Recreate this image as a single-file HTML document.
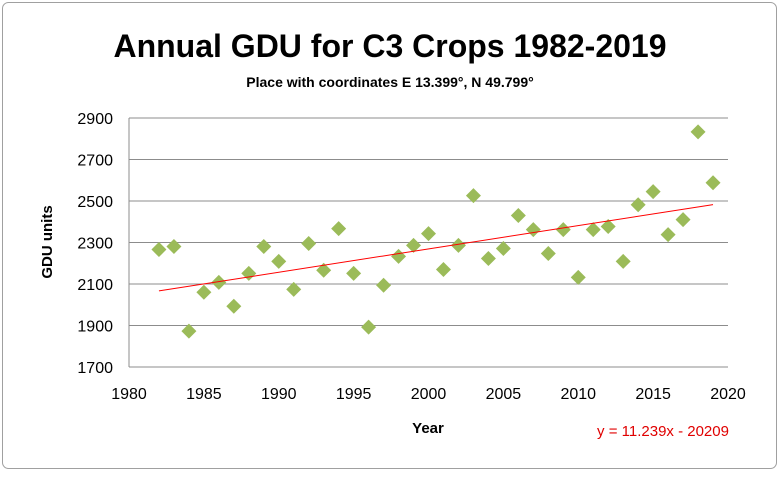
<!DOCTYPE html>
<html><head><meta charset="utf-8"><style>
body{margin:0;background:#fff;}
svg text{font-family:"Liberation Sans",Arial,sans-serif;}
</style></head><body>
<svg id="chart" width="781" height="473">
<rect x="2.5" y="2.5" width="774" height="466" rx="6" fill="#fff" stroke="#a0a0a0"/>
<text x="390" y="57" text-anchor="middle" font-size="32" font-weight="bold">Annual GDU for C3 Crops 1982-2019</text>
<text x="390" y="87" text-anchor="middle" font-size="14" font-weight="bold">Place with coordinates E 13.399°, N 49.799°</text>
<g id="grid"></g><g id="axes"></g><g id="marks"></g>
<text x="428" y="433" text-anchor="middle" font-size="15" font-weight="bold">Year</text>
<text transform="translate(52,242) rotate(-90)" text-anchor="middle" font-size="15" font-weight="bold">GDU units</text>
<text x="663" y="436" text-anchor="middle" font-size="15" fill="#e00000">y = 11.239x - 20209</text>
</svg>
<script>
const years=[1982,1983,1984,1985,1986,1987,1988,1989,1990,1991,1992,1993,1994,1995,1996,1997,1998,1999,2000,2001,2002,2003,2004,2005,2006,2007,2008,2009,2010,2011,2012,2013,2014,2015,2016,2017,2018,2019];
const gdu=[2266,2281,1873,2060,2108,1993,2151,2281,2209,2074,2295,2166,2367,2151,1892,2094,2233,2286,2343,2170,2286,2526,2223,2271,2430,2362,2247,2362,2132,2362,2377,2209,2482,2545,2338,2410,2833,2588];
const yTicks=[1700,1900,2100,2300,2500,2700,2900];
const xTicks=[1980,1985,1990,1995,2000,2005,2010,2015,2020];
const slope=11.239, intercept=-20209;
const X0=129,X1=728,Y0=367,Y1=118;
const sx=v=>X0+(v-1980)/40*(X1-X0);
const sy=v=>Y0-(v-1700)/1200*(Y0-Y1);
const NS="http://www.w3.org/2000/svg";
function mk(t,a,p){const e=document.createElementNS(NS,t);for(const k in a)e.setAttribute(k,a[k]);document.getElementById(p).appendChild(e);return e;}
yTicks.forEach(v=>{
 const l=mk('line',{x1:X0,x2:X1,y1:sy(v),y2:sy(v),stroke:'#8c8c8c'},'grid');
 
 
 const t=mk('text',{x:X0-16,y:sy(v)+6,'text-anchor':'end','font-size':16},'axes');t.textContent=v;
 
 
});
const yl=mk('line',{x1:X0,x2:X0,y1:Y1,y2:Y0,stroke:'#8c8c8c'},'axes');


xTicks.forEach(v=>{
 const t=mk('text',{x:sx(v),y:Y0+32,'text-anchor':'middle','font-size':16},'axes');t.textContent=v;
 
 
});
years.forEach((y,i)=>{
 const cx=sx(y),cy=sy(gdu[i]),r=7.5;
 const p=mk('polygon',{points:`${cx},${cy-r} ${cx+r},${cy} ${cx},${cy+r} ${cx-r},${cy}`,fill:'#9bbb59'},'marks');
 
 
});
const ya=years[0],yb=years[years.length-1];
const tl=mk('line',{x1:sx(ya),y1:sy(slope*ya+intercept),x2:sx(yb),y2:sy(slope*yb+intercept),stroke:'#ff0000','stroke-width':1},'marks');


</script>
</body></html>
